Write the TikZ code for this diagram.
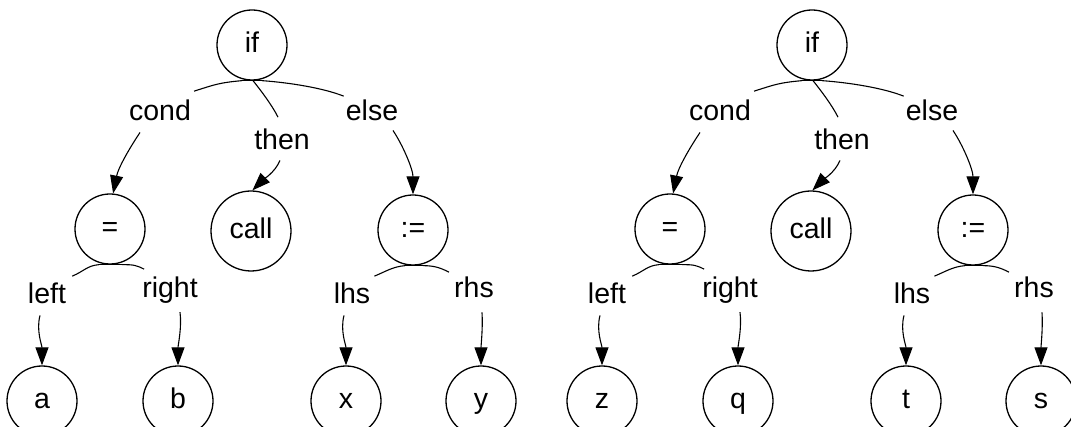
\documentclass[tikz,border=0pt]{standalone}
\usepackage{fontspec}
\setmainfont{Liberation Sans}
\usetikzlibrary{calc,arrows.meta}

\newcommand\treefont{\fontsize{28.5}{34}\selectfont}

\tikzset{
  treenode/.style={circle, draw, line width=1.3pt, minimum size=70pt, inner sep=0pt,
                   text height=18pt, text depth=2pt, font=\treefont},
  widenode/.style={treenode, minimum size=80pt},
  role/.style={anchor=base, inner sep=0pt, font=\treefont},
  branch/.style={line width=1.1pt},
  feed/.style={line width=1.1pt, -{Triangle[length=18pt,width=13pt]}},
}

% One syntax tree of an if statement; #1 name prefix, #2 horizontal shift,
% #3..#6 the four leaf operands
\newcommand\syntaxtree[6]{%
  \begin{scope}[xshift=#2pt]
    \node[treenode] (#1if)   at (252,45)  {if};
    \node[role]     (#1cond) at (160,121) {cond};
    \node[role]     (#1then) at (282,150) {then};
    \node[role]     (#1else) at (372,121) {else};
    \node[treenode] (#1eq)   at (110,229) {=};
    \node[widenode] (#1call) at (251,231) {call};
    \node[treenode] (#1asg)  at (413,230) {:=};
    \node[role]     (#1left)  at (47,304)  {left};
    \node[role]     (#1right) at (170,298) {right};
    \node[role]     (#1lhs)   at (352,304) {lhs};
    \node[role]     (#1rhs)   at (474,298) {rhs};
    \node[treenode] (#1la) at (42,401)  {#3};
    \node[treenode] (#1lb) at (178,401) {#4};
    \node[treenode] (#1lx) at (346,401) {#5};
    \node[treenode] (#1ly) at (481,401) {#6};
    % flat feet under the inner nodes, where their branches leave
    \draw[branch] ($(#1if.south)+(-10,0)$) -- ($(#1if.south)+(10,0)$);
    \draw[branch] ($(#1eq.south)+(-11,0)$) -- ($(#1eq.south)+(12,0)$);
    \draw[branch] ($(#1asg.south)+(-8,0)$) -- ($(#1asg.south)+(10,0)$);
    % branches from a node to its role labels
    \draw[branch] ($(#1if.south)+(-10,0)$) .. controls +(-22,2) and +(22,-7) .. ($(#1cond.north east)+(3,-9)$);
    \draw[branch] ($(#1if.south)+(1,0)$) .. controls +(8,10) and +(-6,-12) .. ($(#1then.north)+(-4,-12)$);
    \draw[branch] ($(#1if.south)+(10,0)$) .. controls +(28,2) and +(-20,-8) .. ($(#1else.north west)+(-2,-4)$);
    \draw[branch] ($(#1eq.south)+(-11,0)$) .. controls +(-12,1) and +(12,-5) .. ($(#1left.north east)+(6,-7)$);
    \draw[branch] ($(#1eq.south)+(12,0)$) .. controls +(12,0) and +(-8,-4) .. ($(#1right.north west)+(2,-8)$);
    \draw[branch] ($(#1asg.south)+(-8,0)$) .. controls +(-12,1) and +(12,-5) .. ($(#1lhs.north east)+(4,-7)$);
    \draw[branch] ($(#1asg.south)+(10,0)$) .. controls +(12,0) and +(-8,-4) .. ($(#1rhs.north west)+(-5,-5)$);
    % arrows from role labels to the child nodes
    \draw[feed] ($(#1cond.south)+(-20,11)$) .. controls +(-12,18) and +(5,-25) .. (#1eq.85);
    \draw[feed] ($(#1then.south)+(-2,10)$) .. controls +(-5,12) and +(10,-10) .. (#1call.88);
    \draw[feed] ($(#1else.south)+(21,9)$) .. controls +(10,15) and +(0,-25) .. (#1asg.north);
    \draw[feed] ($(#1left.south)+(-7,11)$) .. controls +(-4,15) and +(0,-20) .. (#1la.north);
    \draw[feed] ($(#1right.south)+(10,8)$) .. controls +(2,15) and +(0,-20) .. (#1lb.north);
    \draw[feed] ($(#1lhs.south)+(-8,11)$) .. controls +(-4,15) and +(0,-20) .. (#1lx.north);
    \draw[feed] ($(#1rhs.south)+(8,14)$) .. controls +(1,15) and +(0,-20) .. (#1ly.north);
  \end{scope}}

\begin{document}
\begin{tikzpicture}[x=1pt, y=-1pt]
  \useasboundingbox (0,0) rectangle (1071,427);
  \clip (0,0) rectangle (1071,427);
  \syntaxtree{L}{0}{a}{b}{x}{y}
  \syntaxtree{R}{560}{z}{q}{t}{s}
\end{tikzpicture}
\end{document}
